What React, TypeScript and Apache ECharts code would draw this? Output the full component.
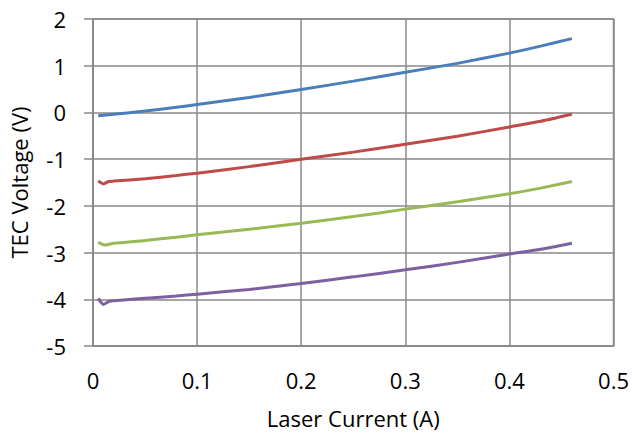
import React, { useEffect, useRef } from "react";
import * as echarts from "echarts";

const xBlue = [0.005, 0.01, 0.02, 0.05, 0.08, 0.1, 0.15, 0.2, 0.25, 0.3, 0.35, 0.4, 0.43, 0.46];
const yBlue = [-0.07, -0.06, -0.04, 0.03, 0.11, 0.17, 0.32, 0.49, 0.67, 0.86, 1.05, 1.27, 1.42, 1.58];

const xRed = [0.005, 0.01, 0.015, 0.02, 0.05, 0.08, 0.1, 0.15, 0.2, 0.25, 0.3, 0.35, 0.4, 0.43, 0.46];
const yRed = [-1.47, -1.53, -1.48, -1.47, -1.42, -1.35, -1.3, -1.16, -1.0, -0.85, -0.68, -0.51, -0.31, -0.19, -0.04];

const xGreen = [0.005, 0.012, 0.02, 0.05, 0.08, 0.1, 0.15, 0.2, 0.25, 0.3, 0.35, 0.4, 0.43, 0.46];
const yGreen = [-2.78, -2.84, -2.8, -2.74, -2.67, -2.62, -2.5, -2.37, -2.23, -2.07, -1.91, -1.74, -1.62, -1.48];

const xPurple = [0.005, 0.01, 0.016, 0.02, 0.05, 0.08, 0.1, 0.15, 0.2, 0.25, 0.3, 0.35, 0.4, 0.43, 0.46];
const yPurple = [-3.98, -4.11, -4.04, -4.03, -3.98, -3.93, -3.89, -3.79, -3.66, -3.52, -3.37, -3.21, -3.03, -2.93, -2.8];

const colors = ["#4A7EBB", "#BE4B48", "#98B954", "#7D60A0"];

const zip = (xs: number[], ys: number[]) => xs.map((x, i) => [x, ys[i]]);

export default function App() {
  const ref = useRef<HTMLDivElement>(null);
  useEffect(() => {
    if (!ref.current) return;
    const chart = echarts.init(ref.current, null, { renderer: "svg" });
    const font = "'Open Sans', Lato, sans-serif";
    const mk = (xs: number[], ys: number[], c: string) => ({
      type: "line",
      data: zip(xs, ys),
      showSymbol: false,
      smooth: 0.2,
      lineStyle: { color: c, width: 3 },
      itemStyle: { color: c },
    });
    chart.setOption({
      animation: false,
      backgroundColor: "#ffffff",
      grid: { left: 90, top: 19, right: 17, bottom: 88, show: true, borderColor: "#888888", borderWidth: 1.5, backgroundColor: "transparent" },
      xAxis: {
        type: "value",
        min: 0,
        max: 0.5,
        interval: 0.1,
        name: "Laser Current (A)",
        nameLocation: "middle",
        nameGap: 61,
        nameTextStyle: { fontFamily: font, fontSize: 22, color: "#000" },
        axisLine: { show: true, onZero: false, lineStyle: { color: "#888888", width: 1.5 } },
        axisTick: { show: false },
        axisLabel: { fontFamily: font, fontSize: 22, color: "#000", margin: 23 },
        splitLine: { show: true, lineStyle: { color: "#888888", width: 1.5 } },
      },
      yAxis: {
        type: "value",
        min: -5,
        max: 2,
        interval: 1,
        name: "TEC Voltage (V)",
        nameLocation: "middle",
        nameGap: 63,
        nameTextStyle: { fontFamily: font, fontSize: 22, color: "#000" },
        axisLine: { show: true, lineStyle: { color: "#888888", width: 1.5 } },
        axisTick: { show: true, inside: false, length: 9, lineStyle: { color: "#888888", width: 1.5 } },
        axisLabel: { fontFamily: font, fontSize: 22, color: "#000", margin: 27 },
        splitLine: { show: true, lineStyle: { color: "#888888", width: 1.5 } },
      },
      series: [
        mk(xBlue, yBlue, colors[0]),
        mk(xRed, yRed, colors[1]),
        mk(xGreen, yGreen, colors[2]),
        mk(xPurple, yPurple, colors[3]),
      ],
    });
    return () => chart.dispose();
  }, []);
  return <div ref={ref} style={{ width: 632, height: 434, position: "absolute", left: 0, top: 0 }} />;
}
